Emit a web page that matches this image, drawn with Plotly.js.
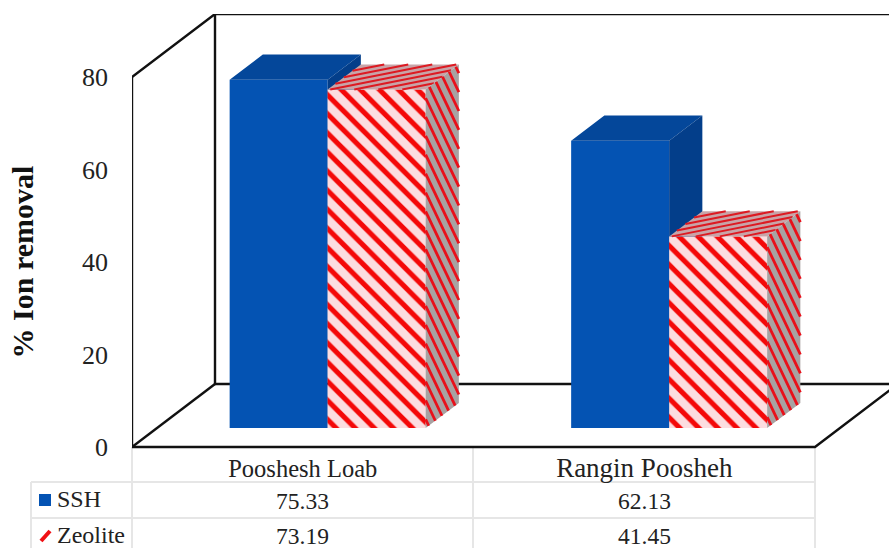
<!DOCTYPE html>
<html>
<head>
<meta charset="utf-8">
<script src="https://cdn.plot.ly/plotly-3.0.1.min.js"></script>
<style>html,body{margin:0;padding:0;background:#fff;overflow:hidden}</style>
</head>
<body>
<div id="chart" style="width:889px;height:548px"></div>
<script>
// Ion removal by adsorbent for two wastewater sources
const categories = ['Pooshesh Loab', 'Rangin Poosheh'];
const seriesNames = ['SSH', 'Zeolite'];
const sshValues = [75.33, 62.13];
const zeoliteValues = [73.19, 41.45];
const yTicks = [0, 20, 40, 60, 80];

// Scale of the plot area, used to express the oblique projection in axis units
const W = 889, H = 548;
const PLOT = {l: 132, r: 0, t: 14, b: 38};
const PX_PER_CAT = 341.5, PX_PER_VAL = 4.625;
const px = v => v / PX_PER_CAT, pv = v => v / PX_PER_VAL;
const xRange = [-0.5, -0.5 + (W - PLOT.l) / PX_PER_CAT];
const yRange = [pv(447 - (H - PLOT.b)), pv(447 - PLOT.t)];

// Depth vector of the box, and the depth span the bars occupy
const DX = px(83), DY = pv(63);
const D_FRONT = 0.3, D_BACK = 0.7;
const BAR_W = px(98);
const project = (x, y, d) => [x + d * DX, y + d * DY];

function polygons(list) {
  const xs = [], ys = [];
  list.forEach(p => {
    p.forEach(q => { xs.push(q[0]); ys.push(q[1]); });
    xs.push(p[0][0]); ys.push(p[0][1]);
    xs.push(null); ys.push(null);
  });
  return {x: xs, y: ys};
}

// Top and side faces of one bar, seen from the upper right
function faces(cat, value, sign) {
  const left = cat + (sign < 0 ? -BAR_W : 0), right = left + BAR_W;
  const top = [
    project(left, value, D_FRONT), project(left, value, D_BACK),
    project(right, value, D_BACK), project(right, value, D_FRONT)
  ];
  const side = [
    project(right, 0, D_FRONT), project(right, value, D_FRONT),
    project(right, value, D_BACK), project(right, 0, D_BACK)
  ];
  return {top, side};
}

// Parallel hatch lines clipped to a convex polygon
function hatch(poly, dir, shift) {
  const xs = [], ys = [];
  const cx = poly.reduce((s, p) => s + p[0], 0) / poly.length;
  const cy = poly.reduce((s, p) => s + p[1], 0) / poly.length;
  let area = 0;
  poly.forEach((a, i) => {
    const b = poly[(i + 1) % poly.length];
    area += a[0] * b[1] - b[0] * a[1];
  });
  for (let k = -80; k <= 80; k++) {
    const ox = cx + k * shift[0], oy = cy + k * shift[1];
    let t0 = -1e9, t1 = 1e9, miss = false;
    poly.forEach((a, i) => {
      const b = poly[(i + 1) % poly.length];
      const nx = (b[1] - a[1]) * Math.sign(area), ny = -(b[0] - a[0]) * Math.sign(area);
      const denom = nx * dir[0] + ny * dir[1];
      const dist = nx * (a[0] - ox) + ny * (a[1] - oy);
      if (Math.abs(denom) < 1e-12) { if (dist < 0) miss = true; return; }
      const t = dist / denom;
      if (denom > 0) t1 = Math.min(t1, t); else t0 = Math.max(t0, t);
    });
    if (miss || t0 >= t1) continue;
    xs.push(ox + t0 * dir[0], ox + t1 * dir[0], null);
    ys.push(oy + t0 * dir[1], oy + t1 * dir[1], null);
  }
  return {x: xs, y: ys};
}

const mergeLines = list => ({
  x: [].concat(...list.map(l => l.x)),
  y: [].concat(...list.map(l => l.y))
});

const sshF = sshValues.map((v, i) => faces(i, v, -1));
const zeoF = zeoliteValues.map((v, i) => faces(i, v, 1));

const faceTrace = (poly, color, ax) => Object.assign(polygons(poly), {
  type: 'scatter', mode: 'lines', fill: 'toself', fillcolor: color,
  line: {width: 0}, hoverinfo: 'skip', showlegend: false, cliponaxis: false,
  xaxis: 'x' + ax, yaxis: 'y' + ax
});
const hatchTrace = (lines, color, width, ax) => Object.assign(lines, {
  type: 'scatter', mode: 'lines', line: {color, width},
  hoverinfo: 'skip', showlegend: false, cliponaxis: false,
  xaxis: 'x' + ax, yaxis: 'y' + ax
});

// Box outline: back wall, floor and front edges, in axis units
const boxPaths = [
  [project(-0.5, 80, 0), project(-0.5, 80, 1), project(xRange[1] + 0.1 - DX, 80, 1)],
  [project(-0.5, 80, 1), project(-0.5, 0, 1), project(xRange[1] + 0.1 - DX, 0, 1)],
  [project(-0.5, 80, 0), project(-0.5, 0, 0), project(1.5, 0, 0), project(1.5, 0, 1)],
  [project(-0.5, 0, 0), project(-0.5, 0, 1)]
];
const boxLines = {x: [], y: []};
boxPaths.forEach(p => {
  p.forEach(q => { boxLines.x.push(q[0]); boxLines.y.push(q[1]); });
  boxLines.x.push(null); boxLines.y.push(null);
});

const sideDir = [px(1), pv(-2.1)], sideShift = [px(9), 0];
const topDir = [px(1), pv(0.2)], topShift = [0, pv(4.8)];

const traces = [
  Object.assign(boxLines, {
    type: 'scatter', mode: 'lines', line: {color: '#111111', width: 2.4},
    hoverinfo: 'skip', showlegend: false, cliponaxis: false
  }),
  {
    type: 'bar', name: seriesNames[0], xaxis: 'x2', yaxis: 'y2', showlegend: false,
    x: categories.map((c, i) => i + D_FRONT * DX - BAR_W / 2),
    y: sshValues, base: D_FRONT * DY, width: BAR_W,
    marker: {color: '#0453b3', line: {width: 0}}, cliponaxis: false
  },
  faceTrace(sshF.map(f => f.top), '#04479a', 2),
  faceTrace(sshF.map(f => f.side), '#033e8a', 2),
  {
    type: 'bar', name: seriesNames[1], xaxis: 'x3', yaxis: 'y3', showlegend: false,
    x: categories.map((c, i) => i + D_FRONT * DX + BAR_W / 2),
    y: zeoliteValues, base: D_FRONT * DY, width: BAR_W,
    marker: {
      color: '#fcdde0', line: {width: 0},
      pattern: {shape: '\\', bgcolor: '#fcdde0', fgcolor: '#f40808', size: 13.5, solidity: 0.38, fillmode: 'replace'}
    },
    cliponaxis: false
  },
  faceTrace(zeoF.map(f => f.top), '#c8a4a8', 3),
  hatchTrace(mergeLines(zeoF.map(f => hatch(f.top, topDir, topShift))), '#dd1a22', 2, 3),
  faceTrace(zeoF.map(f => f.side), '#a8a2a2', 3),
  hatchTrace(mergeLines(zeoF.map(f => hatch(f.side, sideDir, sideShift))), '#e8101a', 2.8, 3)
];

// Data table under the chart, placed by window position
const fx = p => (p - PLOT.l) / (W - PLOT.l - PLOT.r);
const fy = p => ((H - PLOT.b) - p) / (H - PLOT.b - PLOT.t);
const gridLine = (x0, y0, x1, y1) => ({
  type: 'line', xref: 'paper', yref: 'paper', layer: 'below',
  x0: fx(x0), y0: fy(y0), x1: fx(x1), y1: fy(y1),
  line: {color: '#e6e6e6', width: 2}
});
const shapes = [
  gridLine(132, 447, 132, 548),
  gridLine(473, 447, 473, 548),
  gridLine(815, 447, 815, 548),
  gridLine(31, 482, 31, 548),
  gridLine(31, 482, 815, 482),
  gridLine(31, 518, 815, 518),
  {type: 'rect', xref: 'paper', yref: 'paper', x0: fx(39), x1: fx(51), y0: fy(506), y1: fy(494),
    fillcolor: '#0453b3', line: {width: 0}},
  {type: 'line', xref: 'paper', yref: 'paper', x0: fx(41), x1: fx(50), y0: fy(541), y1: fy(531),
    line: {color: '#f01014', width: 4}}
];

const SERIF = '"Liberation Serif", serif';
const cell = (text, x, xref, y, xanchor, size) => ({
  text, x, xref, y: fy(y), yref: 'paper', xanchor, yanchor: 'middle', showarrow: false,
  font: {family: SERIF, size, color: '#222222'}
});
const annotations = [];
seriesNames.forEach((n, r) => annotations.push(cell(n, fx(55), 'paper', [499, 535][r], 'left', 24)));
[sshValues, zeoliteValues].forEach((vals, r) => vals.forEach((v, i) =>
  annotations.push(cell(v.toFixed(2), i, 'x', [501, 536][r], 'center', 23.5))
));

const layout = {
  width: W, height: H, margin: PLOT, autosize: false,
  paper_bgcolor: '#ffffff', plot_bgcolor: 'rgba(0,0,0,0)',
  barmode: 'overlay', showlegend: false, shapes, annotations,
  xaxis: {
    range: xRange, showgrid: false, zeroline: false, showline: false,
    anchor: 'free', position: (H - PLOT.b - 447) / (H - PLOT.b - PLOT.t),
    tickmode: 'array', tickvals: [0, 1],
    ticktext: categories.map((c, i) => '<span style="font-size:' + [24.5, 27][i] + 'px">' + c + '</span>'),
    ticks: '', ticklabelstandoff: 5,
    tickfont: {family: SERIF, size: 24, color: '#222222'}
  },
  yaxis: {
    range: yRange, showgrid: false, zeroline: false, showline: false,
    tickmode: 'array', tickvals: yTicks, ticks: '', ticklabelstandoff: 23,
    tickfont: {family: SERIF, size: 26, color: '#222222'},
    title: {text: '% Ion removal', standoff: 39,
      font: {family: SERIF, size: 30, color: '#111111', weight: 'bold'}}
  }
};
['2', '3'].forEach(n => {
  layout['xaxis' + n] = {range: xRange, overlaying: 'x', visible: false, fixedrange: true};
  layout['yaxis' + n] = {range: yRange, overlaying: 'y', visible: false, fixedrange: true};
});

Plotly.newPlot('chart', traces, layout, {displayModeBar: false, staticPlot: true});
</script>
</body>
</html>
